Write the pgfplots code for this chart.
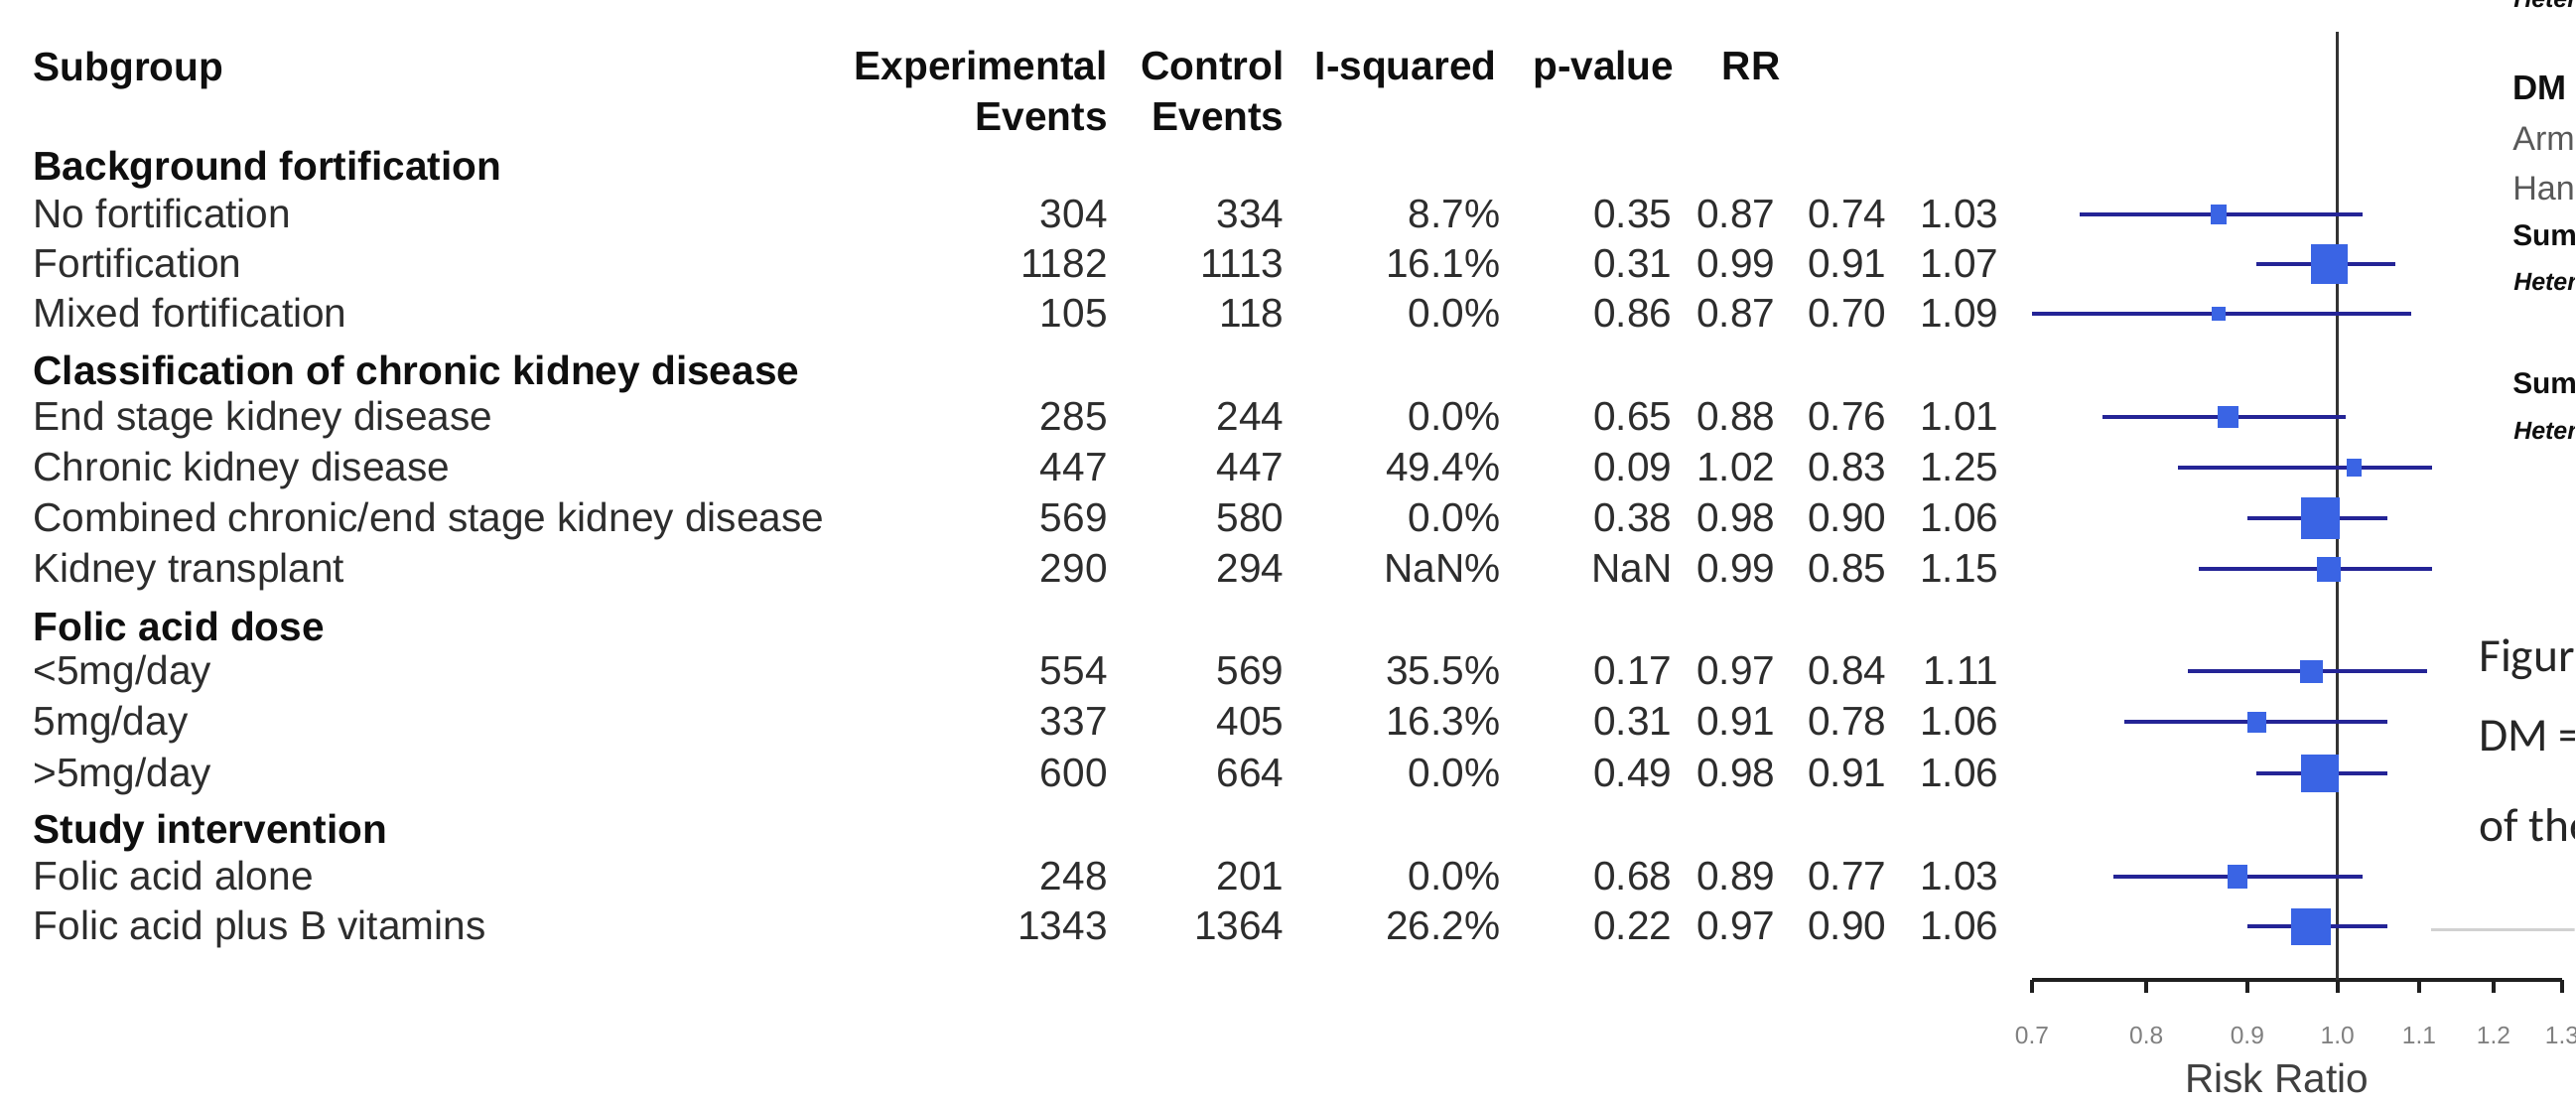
\documentclass[border=0pt]{standalone}
\usepackage{pgfplots}
\pgfplotsset{compat=1.18}
\usepackage{pgfplotstable}
\usepackage{fontspec}
\setmainfont{Liberation Sans}
\newfontfamily\calibri{Carlito}

\definecolor{sqblue}{RGB}{58,100,228}
\definecolor{ciblue}{RGB}{36,36,150}
\definecolor{txt}{RGB}{45,45,45}
\definecolor{hdr}{RGB}{15,15,15}

% rounded box whose half sizes come from the w / h columns (given in px)
\pgfdeclareplotmark{wsq}{%
  \pgfsetcornersarced{\pgfpoint{1.1pt}{1.1pt}}%
  \pgfpathmoveto{\pgfpoint{-0.14225*\mw}{-0.14225*\mh}}%
  \pgfpathlineto{\pgfpoint{0.14225*\mw}{-0.14225*\mh}}%
  \pgfpathlineto{\pgfpoint{0.14225*\mw}{0.14225*\mh}}%
  \pgfpathlineto{\pgfpoint{-0.14225*\mw}{0.14225*\mh}}%
  \pgfpathclose
  \pgfusepathqfill}

% py: row position from the top; w,h: box size
\pgfplotstableread{
py   ee    ce    isq   pval  rr    lo    hi    w   h
216  304   334   8.7   0.35  0.87  0.74  1.03  16  21
266  1182  1113  16.1  0.31  0.99  0.91  1.07  37  41
316  105   118   0.0   0.86  0.87  0.70  1.09  14  14
420  285   244   0.0   0.65  0.88  0.76  1.01  21  22
471  447   447   49.4  0.09  1.02  0.83  1.25  15  18
522  569   580   0.0   0.38  0.98  0.90  1.06  39  42
573  290   294   NaN   NaN   0.99  0.85  1.15  24  25
676  554   569   35.5  0.17  0.97  0.84  1.11  23  23
727  337   405   16.3  0.31  0.91  0.78  1.06  19  21
779  600   664   0.0   0.49  0.98  0.91  1.06  38  38
883  248   201   0.0   0.68  0.89  0.77  1.03  20  24
933  1343  1364  26.2  0.22  0.97  0.90  1.06  40  37
}\subgroups

\newcommand\tabfont{\fontsize{11.55}{13.9}\selectfont}

\begin{document}
\begin{tikzpicture}
\path (0,0) rectangle (25.95,-11.11);

\begin{axis}[
  at={(20.47cm,-9.87cm)}, anchor=south west,
  scale only axis, width=5.34cm, height=9.55cm,
  xmode=log, xmin=0.7, xmax=1.3,
  ymin=-987, ymax=-32,
  axis x line*=bottom, axis y line=none,
  x axis line style={-, line width=1.1pt, color=black!88},
  xtick={0.7,0.8,0.9,1.0,1.1,1.2,1.3},
  xticklabels={0.7,0.8,0.9,1.0,1.1,1.2,1.3},
  minor xtick={}, ytick=\empty,
  tick align=outside, major tick length=0.13cm,
  xtick style={line width=1.1pt, color=black!88},
  xticklabel style={font=\fontsize{7}{8}\selectfont, text=black!50, anchor=center, yshift=-0.43cm},
  clip=false,
]
  \draw[line width=0.75pt, black!80] (axis cs:1,-32) -- (axis cs:1,-987);
  \addplot[only marks, mark=wsq, color=sqblue,
    visualization depends on={\thisrow{w} \as \mw},
    visualization depends on={\thisrow{h} \as \mh},
    error bars/.cd, x dir=both, x explicit, error mark=none,
    error bar style={ciblue, line width=1pt}]
    table[x=rr, y expr=-\thisrow{py},
          x error plus expr={min(\thisrow{hi},1.117)-\thisrow{rr}},
          x error minus expr={\thisrow{rr}-\thisrow{lo}}] {\subgroups};
\end{axis}

\begin{scope}[x=0.01cm, y=-0.01cm,
  lab/.style={anchor=base west, inner sep=0pt, font=\tabfont, text=txt},
  hd/.style={inner sep=0pt, font=\tabfont\bfseries, text=hdr},
  val/.style={anchor=base east, inner sep=0pt, font=\tabfont, text=txt}]
  % column headings
  \node[hd, anchor=base west] at (33,82) {Subgroup};
  \node[hd, anchor=base east] at (1117,81) {Experimental};
  \node[hd, anchor=base east] at (1117,132) {Events};
  \node[hd, anchor=base east] at (1295,81) {Control};
  \node[hd, anchor=base east] at (1295,132) {Events};
  \node[hd, anchor=base east] at (1509,81) {I-squared};
  \node[hd, anchor=base east] at (1688,81) {p-value};
  \node[hd, anchor=base west] at (1735,81) {RR};
  % group headings
  \node[hd, anchor=base west] at (33,182) {Background fortification};
  \node[hd, anchor=base west] at (33,388) {Classification of chronic kidney disease};
  \node[hd, anchor=base west] at (33,646) {Folic acid dose};
  \node[hd, anchor=base west] at (33,850) {Study intervention};
  % subgroup names
  \node[lab] at (33,230) {No fortification};
  \node[lab] at (33,280) {Fortification};
  \node[lab] at (33,330) {Mixed fortification};
  \node[lab] at (33,434) {End stage kidney disease};
  \node[lab] at (33,485) {Chronic kidney disease};
  \node[lab] at (33,536) {Combined chronic/end stage kidney disease};
  \node[lab] at (33,587) {Kidney transplant};
  \node[lab] at (33,690) {<5mg/day};
  \node[lab] at (33,741) {5mg/day};
  \node[lab] at (33,793) {>5mg/day};
  \node[lab] at (33,897) {Folic acid alone};
  \node[lab] at (33,947) {Folic acid plus B vitamins};
  % numeric columns, from the same table as the plot
  \foreach \i in {0,...,11}{%
    \pgfplotstablegetelem{\i}{py}\of\subgroups\let\cPy\pgfplotsretval
    \pgfplotstablegetelem{\i}{ee}\of\subgroups\let\cEE\pgfplotsretval
    \pgfplotstablegetelem{\i}{ce}\of\subgroups\let\cCE\pgfplotsretval
    \pgfplotstablegetelem{\i}{isq}\of\subgroups\let\cIsq\pgfplotsretval
    \pgfplotstablegetelem{\i}{pval}\of\subgroups\let\cP\pgfplotsretval
    \pgfplotstablegetelem{\i}{rr}\of\subgroups\let\cRR\pgfplotsretval
    \pgfplotstablegetelem{\i}{lo}\of\subgroups\let\cLo\pgfplotsretval
    \pgfplotstablegetelem{\i}{hi}\of\subgroups\let\cHi\pgfplotsretval
    \node[val] at (1117,\cPy+14) {\cEE};
    \node[val] at (1295,\cPy+14) {\cCE};
    \node[val] at (1513,\cPy+14) {\cIsq\%};
    \node[val] at (1686,\cPy+14) {\cP};
    \node[val] at (1790,\cPy+14) {\cRR};
    \node[val] at (1902,\cPy+14) {\cLo};
    \node[val] at (2015,\cPy+14) {\cHi};
  }
  % axis title
  \node[anchor=base, inner sep=0pt, font=\tabfont, text=black!75] at (2295,1101) {Risk Ratio};
  % neighbouring panel, cut by the page edge
  \begin{scope}
  \clip (2400,0) rectangle (2595,1111);
  \node[anchor=base west, inner sep=0pt, font=\fontsize{7.1}{8}\selectfont\bfseries\itshape, text=hdr] at (2533,8) {Heterogeneity: I-squared};
  \node[anchor=base west, inner sep=0pt, font=\fontsize{9.9}{11}\selectfont\bfseries, text=hdr] at (2532,101) {DM studies};
  \node[anchor=base west, inner sep=0pt, font=\fontsize{9.7}{11}\selectfont, text=black!65] at (2532,152) {Armstrong 2018};
  \node[anchor=base west, inner sep=0pt, font=\fontsize{9.7}{11}\selectfont, text=black!65] at (2532,202) {Hankey 2011};
  \node[anchor=base west, inner sep=0pt, font=\fontsize{8.5}{10}\selectfont\bfseries, text=hdr] at (2532,248) {Summary};
  \node[anchor=base west, inner sep=0pt, font=\fontsize{7.1}{8}\selectfont\bfseries\itshape, text=hdr] at (2533,293) {Heterogeneity};
  \node[anchor=base west, inner sep=0pt, font=\fontsize{8.5}{10}\selectfont\bfseries, text=hdr] at (2532,397) {Summary};
  \node[anchor=base west, inner sep=0pt, font=\fontsize{7.1}{8}\selectfont\bfseries\itshape, text=hdr] at (2533,443) {Heterogeneity};
  \node[anchor=base west, inner sep=0pt, font=\fontsize{13.5}{15}\selectfont\calibri, text=black!85] at (2498,677) {Figure};
  \node[anchor=base west, inner sep=0pt, font=\fontsize{13.5}{15}\selectfont\calibri, text=black!85] at (2498,757) {DM = diabetes};
  \node[anchor=base west, inner sep=0pt, font=\fontsize{13.5}{15}\selectfont\calibri, text=black!85] at (2498,848) {of the};
  \draw[black!18, line width=0.6pt] (2450,937) -- (2600,937);
  \end{scope}
\end{scope}
\pgfresetboundingbox
\useasboundingbox (0,0) rectangle (25.95,-11.11);
\end{tikzpicture}
\end{document}
